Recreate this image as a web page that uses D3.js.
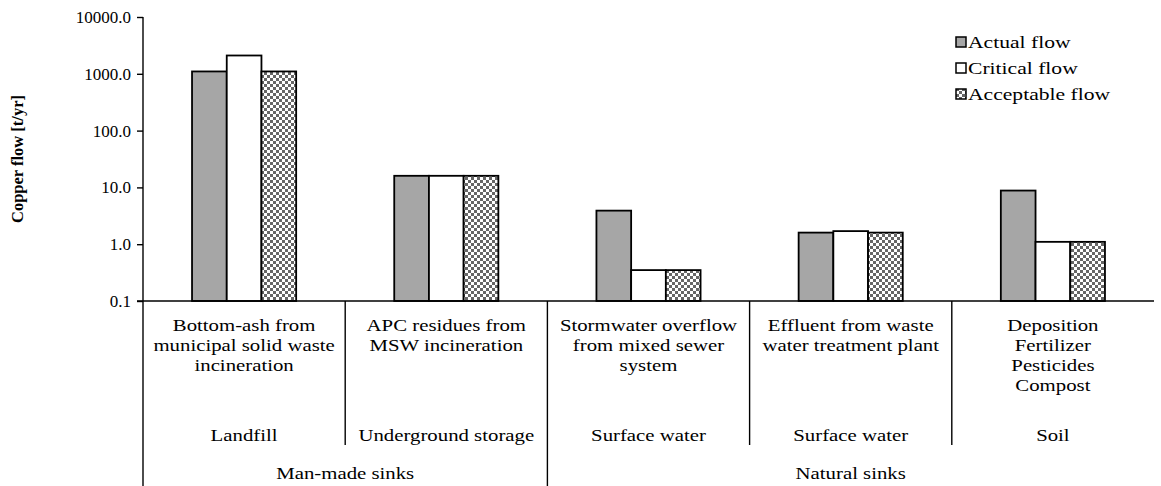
<!DOCTYPE html>
<html>
<head>
<meta charset="utf-8">
<script src="https://cdn.jsdelivr.net/npm/d3@7"></script>
<style>
  body { margin: 0; background: #fff; }
</style>
</head>
<body>
<script>
width  = 1161
height = 486

// data
var categories = [
  ["Bottom-ash from", "municipal solid waste", "incineration"],
  ["APC residues from", "MSW incineration"],
  ["Stormwater overflow", "from mixed sewer", "system"],
  ["Effluent from waste", "water treatment plant"],
  ["Deposition", "Fertilizer", "Pesticides", "Compost"]
];
var sinks = ["Landfill", "Underground storage", "Surface water", "Surface water", "Soil"];
var groups = [
  { name: "Man-made sinks", from: 0, to: 2 },
  { name: "Natural sinks", from: 2, to: 5 }
];
var seriesNames = ["Actual flow", "Critical flow", "Acceptable flow"];
var actualFlow     = [1100, 16, 3.9, 1.6, 8.8];
var criticalFlow   = [2100, 16, 0.35, 1.7, 1.1];
var acceptableFlow = [1100, 16, 0.35, 1.6, 1.1];
var yTicks = [0.1, 1, 10, 100, 1000, 10000];

var series = [actualFlow, criticalFlow, acceptableFlow];

var serif = "Liberation Serif";
var stretch = 1.3;   // the picture's text is wider than it is tall
var margin = { left: 143, right: 7, top: 17, bottom: 185 };

var svg = d3.select("body").append("svg")
  .attr("width", width)
  .attr("height", height)
  .attr("font-family", serif);

var defs = svg.append("defs");
var pat = defs.append("pattern")
  .attr("id", "checker")
  .attr("patternUnits", "userSpaceOnUse")
  .attr("width", 6).attr("height", 6);
pat.append("rect").attr("width", 6).attr("height", 6).attr("fill", "#fff");
pat.append("rect").attr("width", 3).attr("height", 3).attr("fill", "#666");
pat.append("rect").attr("x", 3).attr("y", 3).attr("width", 3).attr("height", 3).attr("fill", "#666");

var fills = ["#a6a6a6", "#fff", "url(#checker)"];

var x = d3.scaleBand()
  .domain(d3.range(categories.length))
  .range([margin.left, width - margin.right]);

var xInner = d3.scaleBand()
  .domain(d3.range(series.length))
  .range([0, x.bandwidth() * 0.515])
  .padding(0);

var y = d3.scaleLog()
  .domain([0.1, 10000])
  .range([height - margin.bottom, margin.top]);

// bars
var barOffset = (x.bandwidth() - xInner.range()[1]) / 2;
series.forEach(function(vals, si) {
  svg.append("g")
    .selectAll("rect")
    .data(vals)
    .enter().append("rect")
      .attr("x", (d, i) => x(i) + barOffset + xInner(si))
      .attr("y", d => y(d))
      .attr("width", xInner.bandwidth())
      .attr("height", d => y(0.1) - y(d))
      .attr("fill", fills[si])
      .attr("stroke", "#000")
      .attr("stroke-width", 1.8);
});

// y axis
var yAxis = d3.axisLeft(y)
  .tickValues(yTicks)
  .tickFormat(d3.format(".1f"))
  .tickSize(6)
  .tickPadding(6);

var gy = svg.append("g")
  .attr("transform", "translate(" + margin.left + ",0)")
  .call(yAxis)
  .attr("font-family", serif)
  .attr("font-size", 17);
gy.select(".domain").remove();
gy.selectAll("line").attr("stroke", "#000").attr("stroke-width", 1.4);
gy.selectAll("text").attr("fill", "#000");

// axis lines
var y0 = y(0.1);
svg.append("line")
  .attr("x1", margin.left).attr("x2", margin.left)
  .attr("y1", margin.top).attr("y2", height)
  .attr("stroke", "#000").attr("stroke-width", 1.4);
svg.append("line")
  .attr("x1", margin.left - 6).attr("x2", width - margin.right)
  .attr("y1", y0).attr("y2", y0)
  .attr("stroke", "#000").attr("stroke-width", 1.4);

// category separators
d3.range(1, categories.length).forEach(function(i) {
  var isGroup = groups.some(g => g.from === i);
  svg.append("line")
    .attr("x1", x(i)).attr("x2", x(i))
    .attr("y1", y0).attr("y2", isGroup ? height : 445)
    .attr("stroke", "#000").attr("stroke-width", 1.4);
});

// stretched, centred label
function label(parent, cx, cy, lines, lineH) {
  var t = parent.append("text")
    .attr("transform", "translate(" + cx + "," + cy + ") scale(" + stretch + ",1)")
    .attr("text-anchor", "middle")
    .attr("font-size", 16);
  lines.forEach(function(line, li) {
    t.append("tspan")
      .attr("x", 0)
      .attr("dy", li === 0 ? 0 : lineH)
      .text(line);
  });
  return t;
}

var labelG = svg.append("g");
categories.forEach(function(lines, i) {
  label(labelG, x(i) + x.bandwidth() / 2, 331, lines, 20);
});

sinks.forEach(function(s, i) {
  label(labelG, x(i) + x.bandwidth() / 2, 441, [s], 0);
});

groups.forEach(function(g) {
  label(labelG, (x(g.from) + x(g.to - 1) + x.bandwidth()) / 2, 479, [g.name], 0);
});

// y axis title
svg.append("text")
  .attr("transform", "translate(23," + ((margin.top + y0) / 2) + ") rotate(-90)")
  .attr("text-anchor", "middle")
  .attr("font-size", 16.5)
  .attr("font-weight", "bold")
  .text("Copper flow [t/yr]");

// legend
var legend = svg.append("g")
  .attr("transform", "translate(956,42)")
  .selectAll("g")
  .data(seriesNames)
  .enter().append("g")
    .attr("transform", (d, i) => "translate(0," + i * 26 + ")");

legend.append("rect")
  .attr("x", 0).attr("y", -5)
  .attr("width", 10).attr("height", 10)
  .attr("fill", (d, i) => fills[i])
  .attr("stroke", "#000")
  .attr("stroke-width", 1.5);

legend.append("text")
  .attr("transform", "translate(12,6) scale(" + (stretch + 0.05) + ",1)")
  .attr("font-size", 16)
  .text(d => d);
</script>
</body>
</html>
